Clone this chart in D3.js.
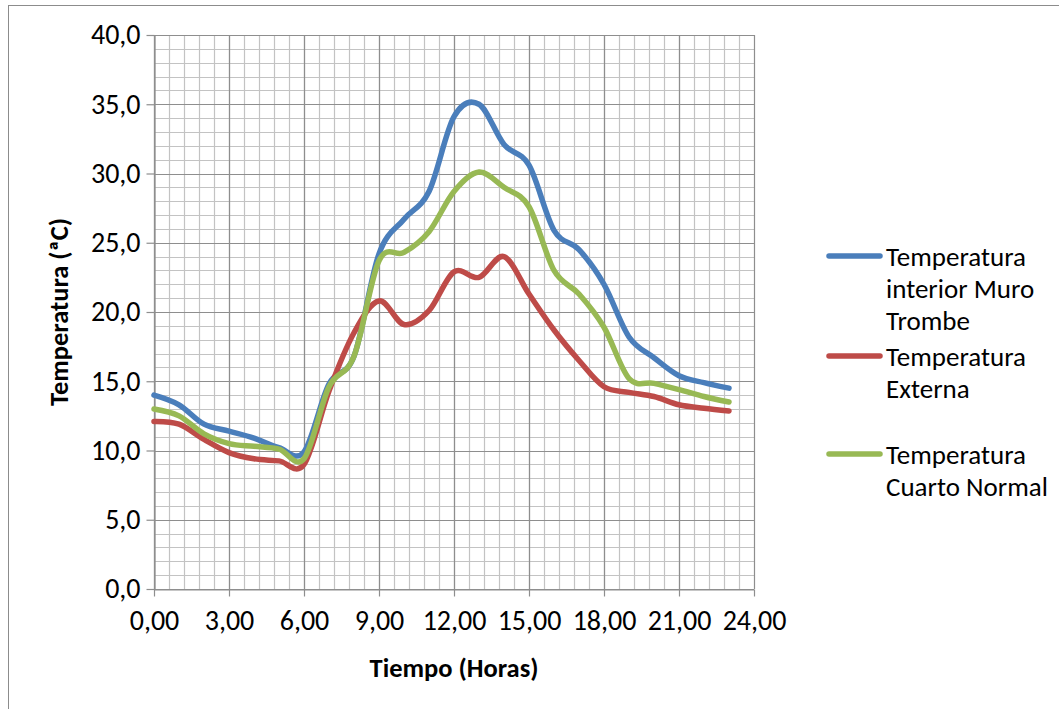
<!DOCTYPE html>
<html>
<head>
<meta charset="utf-8">
<script src="https://cdn.jsdelivr.net/npm/d3@7"></script>
<style>
  body { margin: 0; background: #fff; }
  svg { display: block; font-family: Calibri, Carlito, Lato, sans-serif; }
</style>
</head>
<body>
<svg id="chart" width="1059" height="709"></svg>
<script>
// horas del dia
var horas = d3.range(0, 24);

// Temperatura interior Muro Trombe
var muroTrombe = [14.0, 13.3, 11.9, 11.4, 10.9, 10.2, 9.9, 14.8, 16.8, 24.2, 26.7, 28.7,
    34.1, 35.0, 32.1, 30.6, 25.9, 24.5, 22.0, 18.2, 16.7, 15.4, 14.9, 14.5];
// Temperatura Externa
var externa = [12.1, 11.9, 10.8, 9.85, 9.4, 9.25, 9.0, 14.3, 18.5, 20.8, 19.1, 20.1,
    22.9, 22.5, 24.0, 21.3, 18.7, 16.5, 14.6, 14.2, 13.9, 13.3, 13.05, 12.85];
// Temperatura Cuarto Normal
var cuartoNormal = [13.0, 12.5, 11.2, 10.5, 10.3, 10.1, 9.4, 14.6, 16.8, 23.7, 24.3, 25.8,
    28.7, 30.1, 29.0, 27.6, 23.0, 21.3, 18.9, 15.2, 14.85, 14.4, 13.9, 13.5];

var xTicks = [0, 3, 6, 9, 12, 15, 18, 21, 24];
var yTicks = [0, 5, 10, 15, 20, 25, 30, 35, 40];

var series = [
    { nombre: ['Temperatura', 'interior Muro', 'Trombe'], valores: muroTrombe, color: '#4a7ebb' },
    { nombre: ['Temperatura', 'Externa'], valores: externa, color: '#be4b48' },
    { nombre: ['Temperatura', 'Cuarto Normal'], valores: cuartoNormal, color: '#98b954' }
];

var svg = d3.select('svg#chart');

// marco del grafico
svg.append('rect')
    .attr('x', 8.5).attr('y', 5.5)
    .attr('width', 1100).attr('height', 800)
    .style('fill', '#fff')
    .style('stroke', '#8c8c8c')
    .style('stroke-width', 1);

var x = d3.scaleLinear().domain([0, 24]).range([154, 754]);
var y = d3.scaleLinear().domain([0, 40]).range([589, 35]);

/*----------  Rejilla  ----------*/
var grid = svg.append('g').attr('id', 'rejilla');

grid.selectAll('line.vmin')
    .data(d3.range(0, 40).map(d => d * 0.6))
    .enter().append('line')
    .attr('x1', d => Math.round(x(d)) + 0.5).attr('x2', d => Math.round(x(d)) + 0.5)
    .attr('y1', y(40)).attr('y2', y(0))
    .style('stroke', '#c3c3c3').style('stroke-width', 1.2);

grid.selectAll('line.hmin')
    .data(d3.range(0, 41))
    .enter().append('line')
    .attr('y1', d => Math.round(y(d)) + 0.5).attr('y2', d => Math.round(y(d)) + 0.5)
    .attr('x1', x(0)).attr('x2', x(24))
    .style('stroke', '#c3c3c3').style('stroke-width', 1.2);

grid.selectAll('line.vmaj')
    .data(xTicks)
    .enter().append('line')
    .attr('x1', d => Math.round(x(d)) + 0.5).attr('x2', d => Math.round(x(d)) + 0.5)
    .attr('y1', y(40)).attr('y2', y(0))
    .style('stroke', '#8e8e8e').style('stroke-width', 1.2);

grid.selectAll('line.hmaj')
    .data(yTicks)
    .enter().append('line')
    .attr('y1', d => Math.round(y(d)) + 0.5).attr('y2', d => Math.round(y(d)) + 0.5)
    .attr('x1', x(0)).attr('x2', x(24))
    .style('stroke', '#8e8e8e').style('stroke-width', 1.2);

/*----------  Ejes  ----------*/
var fmtX = d => d3.format('.2f')(d).replace('.', ',');
var fmtY = d => d3.format('.1f')(d).replace('.', ',');

var ejeX = svg.append('g')
    .attr('transform', 'translate(0,' + (Math.round(y(0)) + 0.5) + ')')
    .call(d3.axisBottom(x).tickValues(xTicks).tickFormat(fmtX).tickSize(7).tickPadding(14).tickSizeOuter(0));

var ejeY = svg.append('g')
    .attr('transform', 'translate(' + (Math.round(x(0)) + 0.5) + ',0)')
    .call(d3.axisLeft(y).tickValues(yTicks).tickFormat(fmtY).tickSize(8).tickPadding(6).tickSizeOuter(0));

[ejeX, ejeY].forEach(function (g) {
    g.select('.domain').style('stroke', '#8e8e8e').style('stroke-width', 1.2);
    g.selectAll('.tick line').style('stroke', '#8e8e8e').style('stroke-width', 1.2);
    g.selectAll('.tick text')
        .style('font-family', 'Calibri, Carlito, Lato, sans-serif')
        .style('font-size', '28px')
        .style('fill', '#000');
});

svg.append('text')
    .attr('x', 454).attr('y', 677)
    .attr('text-anchor', 'middle')
    .style('font-size', '26.5px').style('font-weight', 'bold')
    .text('Tiempo (Horas)');

svg.append('text')
    .attr('transform', 'translate(68,312) rotate(-90)')
    .attr('text-anchor', 'middle')
    .style('font-size', '26.5px').style('font-weight', 'bold')
    .text('Temperatura (ªC)');

/*----------  Series  ----------*/
var linea = d3.line()
    .x((d, i) => x(horas[i]))
    .y(d => y(d))
    .curve(d3.curveCardinal.tension(0));

svg.append('g').attr('id', 'series')
    .selectAll('path')
    .data(series)
    .enter().append('path')
    .attr('d', d => linea(d.valores))
    .style('fill', 'none')
    .style('stroke', d => d.color)
    .style('stroke-width', 5.5)
    .style('stroke-linecap', 'round')
    .style('stroke-linejoin', 'round');

/*----------  Leyenda  ----------*/
var leyendaY = [256, 356, 454];
var leyenda = svg.append('g').attr('id', 'leyenda');

series.forEach(function (s, i) {
    leyenda.append('line')
        .attr('x1', 829).attr('x2', 880)
        .attr('y1', leyendaY[i]).attr('y2', leyendaY[i])
        .style('stroke', s.color)
        .style('stroke-width', 5.5)
        .style('stroke-linecap', 'round');
    var t = leyenda.append('text')
        .attr('x', 886)
        .attr('y', leyendaY[i] + 9.5)
        .style('font-size', '27px');
    s.nombre.forEach(function (linea, k) {
        t.append('tspan')
            .attr('x', 886)
            .attr('dy', k === 0 ? 0 : 32.3)
            .text(linea);
    });
});
</script>
</body>
</html>
